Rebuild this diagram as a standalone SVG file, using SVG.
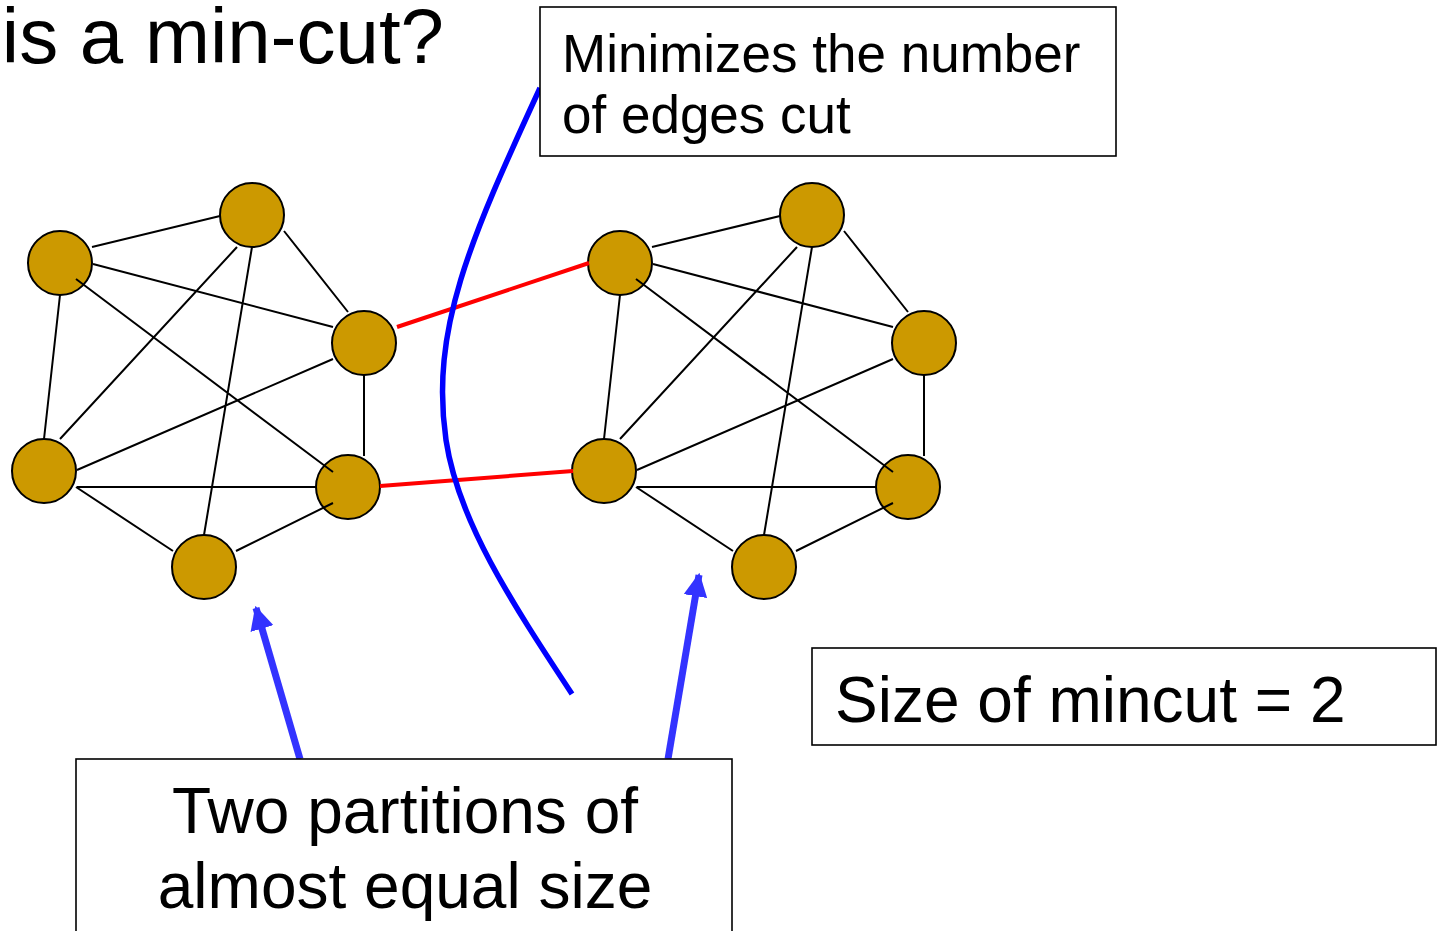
<svg xmlns="http://www.w3.org/2000/svg" width="1441" height="931" viewBox="0 0 1441 931">
<style>
text{font-family:"Liberation Sans",Arial,sans-serif;fill:#000}
.node{fill:#cc9900;stroke:#000;stroke-width:2}
.e{stroke:#000;stroke-width:2;fill:none}
.cut{stroke:#ff0000;stroke-width:4;fill:none}
.box{fill:#fff;stroke:#000;stroke-width:1.6}
.arr{stroke:#3333ff;stroke-width:7;fill:none}
</style>
<defs>
<marker id="ah" viewBox="0 0 10 10" refX="9" refY="5" markerWidth="3.4" markerHeight="3.4" markerUnits="strokeWidth" orient="auto">
<path d="M0,0 L10,5 L0,10 z" fill="#3333ff"/>
</marker>
<g id="cluster">
<circle class="node" cx="60" cy="263" r="32"/>
<circle class="node" cx="252" cy="215" r="32"/>
<circle class="node" cx="364" cy="343" r="32"/>
<circle class="node" cx="44" cy="471" r="32"/>
<circle class="node" cx="348" cy="487" r="32"/>
<circle class="node" cx="204" cy="567" r="32"/>
<path class="e" d="M92,247 L220,216 M284,231 L348,312 M93,264 L333,327 M60,295 L44,439 M76,279 L333,472 M237,247 L60,439 M252,247 L204,535 M333,359 L77,470 M364,375 L364,456 M77,487 L317,487 M76,487 L173,551 M236,551 L333,503"/>
</g>
</defs>
<g id="title"><text x="444" y="63" font-size="78" text-anchor="end">is a min-cut?</text></g>
<g id="left-partition"><use href="#cluster"/></g>
<g id="right-partition"><use href="#cluster" transform="translate(560,0)"/></g>
<g id="connectors">
<line class="cut" x1="397" y1="327" x2="589" y2="263"/>
<line class="cut" x1="380" y1="486" x2="573" y2="471"/>
<path d="M540,88 C470,240 430,330 446,440 C458,520 510,600 572,694" stroke="#0000ff" stroke-width="5.5" fill="none"/>
<line class="arr" x1="300" y1="759" x2="256" y2="608" marker-end="url(#ah)"/>
<line class="arr" x1="668" y1="759" x2="699" y2="575" marker-end="url(#ah)"/>
</g>
<g id="note-min">
<rect class="box" x="540" y="7" width="576" height="149"/>
<text x="562" y="72" font-size="53">Minimizes the number</text>
<text x="562" y="133" font-size="53">of edges cut</text>
</g>
<g id="note-size">
<rect class="box" x="812" y="648" width="624" height="97"/>
<text x="835" y="722" font-size="64">Size of mincut = 2</text>
</g>
<g id="note-partitions">
<rect class="box" x="76" y="759" width="656" height="180"/>
<text x="405" y="833" font-size="64" text-anchor="middle">Two partitions of</text>
<text x="405" y="908" font-size="64" text-anchor="middle">almost equal size</text>
</g>
</svg>
